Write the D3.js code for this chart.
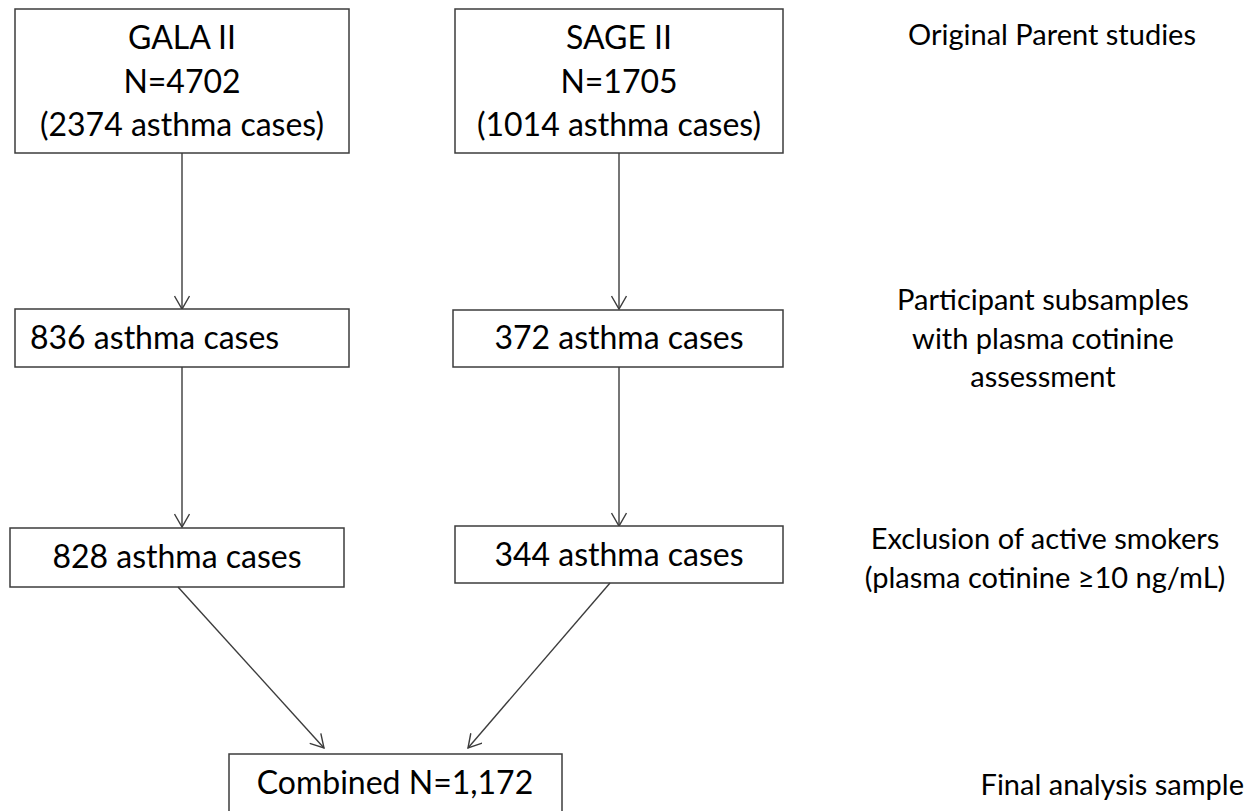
<!DOCTYPE html>
<html>
<head>
<meta charset="utf-8">
<script src="https://cdn.jsdelivr.net/npm/d3@7"></script>
<style>
  html, body { margin: 0; padding: 0; background: #fff; }
  svg text { font-family: Lato, "Open Sans", sans-serif; fill: #000; }
</style>
</head>
<body>
<div id="chart"></div>
<script>
// flowchart content
const galaLines = ['GALA II', 'N=4702', '(2374 asthma cases)'];
const sageLines = ['SAGE II', 'N=1705', '(1014 asthma cases)'];
const subsampleCases = ['836 asthma cases', '372 asthma cases'];
const nonSmokerCases = ['828 asthma cases', '344 asthma cases'];
const combinedLabel = 'Combined N=1,172';
const stageLabels = [
    ['Original Parent studies'],
    ['Participant subsamples', 'with plasma cotinine', 'assessment'],
    ['Exclusion of active smokers', '(plasma cotinine \u226510 ng/mL)'],
    ['Final analysis sample']
];

const width = 1253,
    height = 811;

const svg = d3.select('#chart').append('svg')
    .attr('width', width)
    .attr('height', height);

// column centres (left study, right study)
const col = d3.scaleOrdinal().domain(['left', 'right']).range([182, 619]);

const stroke = '#3c3c3c';
const fontSize = 32;

// arrow head (open V)
svg.append('defs').append('marker')
    .attr('id', 'arrow')
    .attr('markerUnits', 'userSpaceOnUse')
    .attr('viewBox', '-14 -8 16 16')
    .attr('refX', 0)
    .attr('refY', 0)
    .attr('markerWidth', 16)
    .attr('markerHeight', 16)
    .attr('orient', 'auto')
    .append('path')
    .attr('d', 'M-13,-7.5L0,0L-13,7.5')
    .attr('fill', 'none')
    .attr('stroke', stroke)
    .attr('stroke-width', 1.4);

function box(x0, y0, x1, y1) {
    svg.append('rect')
        .attr('x', x0)
        .attr('y', y0)
        .attr('width', x1 - x0)
        .attr('height', y1 - y0)
        .attr('fill', '#fff')
        .attr('stroke', stroke)
        .attr('stroke-width', 1.5);
}

function arrow(x0, y0, x1, y1) {
    svg.append('line')
        .attr('x1', x0).attr('y1', y0)
        .attr('x2', x1).attr('y2', y1)
        .attr('stroke', stroke)
        .attr('stroke-width', 1.4)
        .attr('marker-end', 'url(#arrow)');
}

function label(x, y, txt, anchor, size) {
    svg.append('text')
        .attr('x', x)
        .attr('y', y)
        .attr('text-anchor', anchor || 'middle')
        .style('font-size', (size || fontSize) + 'px')
        .text(txt);
}

// row 1: parent studies
box(15, 9, 349, 153);
box(455, 9, 783, 153);
galaLines.forEach((t, i) => label(col('left'), 49 + i * 43.5, t));
sageLines.forEach((t, i) => label(col('right'), 49 + i * 43.5, t));

// arrows down to subsamples
arrow(col('left'), 153, col('left'), 309);
arrow(col('right'), 153, col('right'), 309);

// row 2: cotinine subsamples
box(15, 309, 349, 367);
box(453, 310, 783, 367);
label(30, 349, subsampleCases[0], 'start');
label(col('right'), 349, subsampleCases[1]);

arrow(col('left'), 367, col('left'), 527);
arrow(col('right'), 367, col('right'), 526);

// row 3: non smokers
box(10, 528, 344, 587);
box(455, 526, 783, 583);
label(177, 568, nonSmokerCases[0]);
label(col('right'), 566, nonSmokerCases[1]);

// converge to combined sample
arrow(178, 587, 324, 748);
arrow(610, 583, 468, 748);

box(229, 754, 562, 830);
label(395, 794, combinedLabel);

// stage descriptions on the right
const stageSize = 29;
const stageY = [45, 310, 549, 795];
const stageX = [1052, 1043, 1045, 1244];
const stageAnchor = ['middle', 'middle', 'middle', 'end'];
stageLabels.forEach((lines, s) => {
    lines.forEach((t, i) => label(stageX[s], stageY[s] + i * 38.5, t, stageAnchor[s], stageSize));
});
</script>
</body>
</html>
